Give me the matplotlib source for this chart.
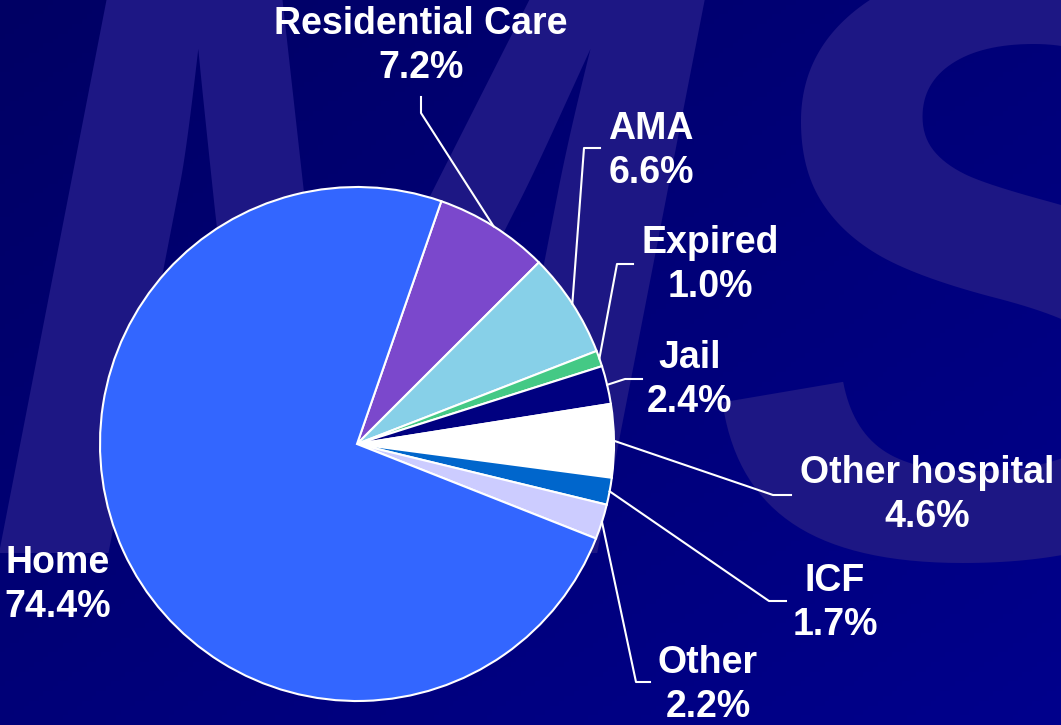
import numpy as np
import matplotlib.pyplot as plt

# discharge destinations, share of cases (%)
labels = ['Residential Care', 'AMA', 'Expired', 'Jail', 'Other hospital', 'ICF', 'Other', 'Home']
shares = [7.2, 6.6, 1.0, 2.4, 4.6, 1.7, 2.2, 74.4]
colors = ['#7b48cc', '#87d0e8', '#44c985', '#000080', '#ffffff', '#0066cc', '#ccccff', '#3366ff']

# layout in pixels (y up): label block centres, leader elbow and leader end
label_xy = [(421, 679), (651, 574), (710, 460), (690, 345), (927, 230), (835, 122), (708, 40), (58, 140)]
elbow_xy = [(421, 612), (584, 577), (617, 461), (625, 346), (773, 230), (769, 124), (636, 43), None]
end_xy = [(421, 628), (600, 577), (633, 461), (642, 346), (791, 230), (786, 124), (650, 43), None]

W, H = 1061, 725
cx, cy, r = 357, 281, 257

fig = plt.figure(figsize=(W / 100, H / 100), dpi=100)
ax = fig.add_axes([0, 0, 1, 1])

# dark navy background, slightly darker top-left
gx, gy = np.meshgrid(np.linspace(0, 1, 220), np.linspace(0, 1, 150))
t = (gx + gy) / 2
c0 = np.array([0, 0, 100]) / 255
c1 = np.array([0, 0, 140]) / 255
bg = c0 + t[..., None] * (c1 - c0)
ax.imshow(bg, extent=[0, W, 0, H], origin='upper', aspect='auto', zorder=-2)

# faint "MS" watermark
wm = dict(fontsize=616, fontweight='bold', fontstyle='italic', family='Liberation Sans',
          color='#1d1784', zorder=-1, va='baseline', ha='left')
ax.text(-16, 172, 'M', **wm)
ax.text(712, 170, 'S', **wm)

wedges, _ = ax.pie(shares, colors=colors, startangle=70.85, counterclock=False,
                   center=(cx, cy), radius=r,
                   wedgeprops=dict(edgecolor='white', linewidth=1.5))

for w, lab, v, lxy, el, en in zip(wedges, labels, shares, label_xy, elbow_xy, end_xy):
    ax.text(lxy[0], lxy[1], f'{lab}\n{v:.1f}%', ha='center', va='center',
            fontsize=27, fontweight='bold', color='white', family='Liberation Sans',
            linespacing=1.3, zorder=5)
    if el is None:
        continue
    mid = np.deg2rad((w.theta1 + w.theta2) / 2)
    ax0 = cx + r * np.cos(mid)
    ay0 = cy + r * np.sin(mid)
    ax.plot([ax0, el[0], en[0]], [ay0, el[1], en[1]], color='white', lw=1.5, zorder=4)

ax.set_xlim(0, W)
ax.set_ylim(0, H)
ax.set_aspect('auto')
ax.axis('off')

fig.savefig('out.png', dpi=100)
